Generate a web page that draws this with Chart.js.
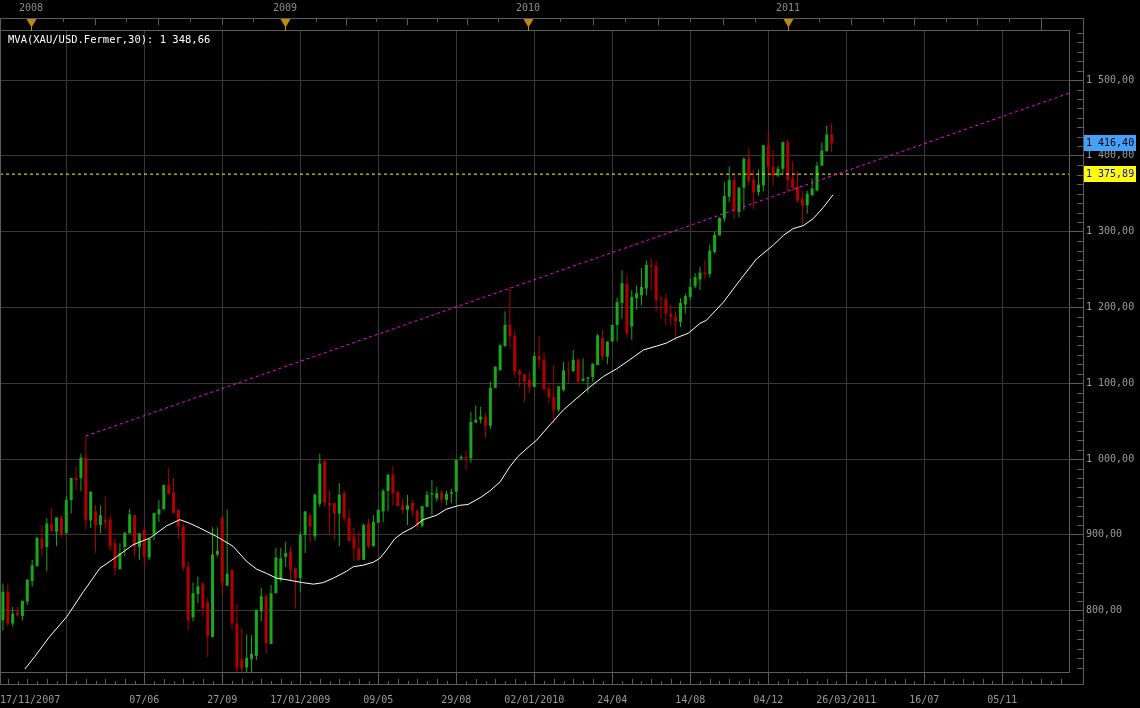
<!DOCTYPE html>
<html>
<head>
<meta charset="utf-8">
<script src="https://cdn.jsdelivr.net/npm/chart.js@4.4.0/dist/chart.umd.min.js"></script>
<style>
  html, body { margin: 0; padding: 0; background: #000; }
  #wrap { width: 1140px; height: 708px; }
</style>
</head>
<body>
<div id="wrap"><canvas id="chartCanvas" width="1140" height="708"></canvas></div>
<script>
// Weekly XAU/USD candles, one row per week from 17/11/2007: [open, high, low, close]
const weeklyOHLC = [
  [787, 836, 774, 825], [825, 836, 780, 783], [783, 805, 779, 796], [797, 805, 792, 794],
  [793, 813, 787, 813], [812, 841, 807, 841], [839, 867, 832, 860], [859, 898, 858, 896],
  [895, 913, 871, 883], [884, 922, 852, 915], [914, 935, 905, 905], [904, 923, 885, 923],
  [922, 926, 897, 901], [902, 951, 902, 946], [946, 975, 928, 975], [975, 990, 959, 972],
  [975, 1007, 958, 1002], [1002, 1030, 907, 919], [919, 957, 909, 957], [931, 939, 876, 913],
  [913, 939, 902, 926], [920, 950, 906, 916], [920, 926, 879, 885], [889, 895, 847, 856],
  [855, 889, 854, 876], [884, 903, 872, 903], [902, 934, 902, 927], [926, 926, 872, 885],
  [884, 902, 867, 902], [907, 907, 858, 871], [870, 895, 867, 895], [901, 929, 893, 929],
  [927, 946, 917, 934], [934, 966, 933, 966], [966, 988, 954, 954], [956, 975, 928, 929],
  [933, 934, 895, 911], [911, 915, 852, 857], [858, 865, 774, 787], [791, 837, 786, 823],
  [822, 845, 810, 832], [836, 837, 792, 803], [811, 816, 739, 766], [765, 910, 765, 874],
  [874, 910, 871, 879], [923, 923, 821, 836], [833, 933, 833, 849], [854, 854, 775, 783],
  [783, 809, 705, 724], [736, 777, 710, 724], [725, 769, 712, 738], [736, 768, 715, 743],
  [740, 801, 735, 801], [799, 830, 786, 819], [820, 820, 744, 757], [756, 834, 756, 823],
  [823, 883, 823, 870], [841, 883, 838, 869], [871, 891, 858, 876], [878, 885, 840, 854],
  [856, 856, 803, 843], [843, 904, 825, 900], [900, 931, 876, 931], [926, 928, 890, 911],
  [898, 955, 893, 953], [941, 1007, 937, 994], [997, 1000, 937, 942], [942, 959, 902, 939],
  [942, 942, 893, 928], [928, 968, 885, 953], [955, 959, 917, 922], [922, 934, 892, 892],
  [898, 909, 866, 882], [882, 904, 866, 867], [867, 915, 867, 913], [915, 921, 882, 885],
  [885, 926, 885, 917], [916, 933, 916, 933], [931, 961, 917, 958], [958, 981, 931, 979],
  [979, 991, 939, 955], [957, 957, 938, 938], [939, 948, 928, 933], [933, 953, 913, 939],
  [942, 946, 924, 932], [932, 933, 906, 913], [912, 938, 910, 938], [937, 958, 937, 953],
  [953, 972, 926, 955], [948, 963, 944, 955], [955, 959, 942, 947], [946, 958, 939, 954],
  [954, 961, 942, 956], [957, 999, 939, 999], [1001, 1005, 998, 1003], [1003, 1011, 986, 1001],
  [1001, 1062, 995, 1049], [1048, 1071, 1048, 1052], [1052, 1069, 1047, 1056], [1056, 1060, 1027, 1044],
  [1044, 1102, 1040, 1094], [1094, 1122, 1094, 1122], [1117, 1152, 1117, 1150], [1149, 1195, 1148, 1177],
  [1177, 1227, 1146, 1162], [1162, 1170, 1108, 1115], [1116, 1119, 1095, 1111], [1112, 1112, 1076, 1102],
  [1105, 1115, 1087, 1095], [1095, 1141, 1095, 1136], [1136, 1162, 1119, 1131], [1131, 1141, 1091, 1092],
  [1093, 1098, 1074, 1081], [1082, 1125, 1046, 1065], [1065, 1096, 1062, 1096], [1091, 1128, 1089, 1117],
  [1118, 1128, 1100, 1117], [1116, 1144, 1115, 1131], [1131, 1133, 1100, 1102], [1103, 1133, 1102, 1106],
  [1106, 1108, 1087, 1108], [1108, 1126, 1102, 1126], [1124, 1165, 1124, 1163], [1160, 1170, 1130, 1135],
  [1135, 1155, 1125, 1155], [1155, 1177, 1155, 1177], [1177, 1213, 1155, 1207], [1206, 1249, 1185, 1232],
  [1231, 1243, 1160, 1166], [1175, 1223, 1157, 1214], [1212, 1229, 1197, 1219], [1216, 1252, 1203, 1227],
  [1225, 1262, 1216, 1256], [1256, 1265, 1223, 1254], [1255, 1262, 1195, 1210], [1212, 1215, 1185, 1211],
  [1211, 1218, 1177, 1192], [1192, 1204, 1176, 1187], [1188, 1195, 1157, 1181], [1181, 1212, 1174, 1206],
  [1204, 1218, 1192, 1215], [1214, 1238, 1210, 1227], [1228, 1245, 1225, 1240], [1237, 1254, 1223, 1246],
  [1246, 1262, 1238, 1244], [1244, 1283, 1240, 1275], [1273, 1300, 1271, 1296], [1295, 1319, 1295, 1318],
  [1317, 1365, 1313, 1347], [1346, 1386, 1339, 1368], [1368, 1376, 1316, 1328], [1326, 1359, 1319, 1358],
  [1358, 1398, 1328, 1396], [1396, 1410, 1361, 1367], [1368, 1381, 1330, 1352], [1352, 1382, 1347, 1362],
  [1361, 1414, 1353, 1414], [1414, 1431, 1372, 1385], [1386, 1407, 1361, 1374], [1374, 1387, 1372, 1383],
  [1383, 1419, 1376, 1418], [1418, 1421, 1353, 1368], [1370, 1393, 1354, 1358], [1360, 1379, 1338, 1341],
  [1343, 1354, 1308, 1335], [1335, 1354, 1324, 1350], [1348, 1370, 1347, 1357], [1354, 1392, 1354, 1387],
  [1387, 1418, 1387, 1407], [1406, 1440, 1406, 1428], [1428, 1443, 1405, 1416.4]
];

// 30-week moving average (white line): week index -> value
const maWeeks = [4.5, 6.6, 9.6, 13.1, 16.5, 19.9, 23.3, 26.7, 30.2, 33.6, 36.3, 38.4, 40.4, 43.8,
  47.2, 50.0, 52.0, 54.1, 56.1, 58.9, 61.5, 63.7, 65.7, 67.8, 70.5, 71.9, 73.9, 76.0, 77.3, 78.7,
  80.4, 82.1, 84.2, 86.2, 89.0, 91.0, 93.7, 95.4, 97.9, 99.9, 102.0, 104.0, 105.6, 107.3, 109.5,
  112.2, 115.0, 117.7, 120.4, 123.2, 125.9, 128.6, 131.4, 134.1, 136.1, 138.2, 140.6, 143.0, 144.3,
  147.8, 151.2, 154.6, 158.0, 160.1, 162.1, 164.2, 166.2, 168.3, 170.3];
const maValues = [723, 740, 766, 792, 825, 856, 871, 887, 896, 912, 920, 915, 909, 898,
  885, 865, 855, 849, 843, 840, 837, 835, 837, 843, 852, 858, 860, 864, 869, 880,
  895, 903, 910, 920, 926, 934, 939, 940, 949, 958, 970, 990, 1003, 1013, 1025,
  1045, 1065, 1080, 1095, 1109, 1119, 1131, 1144, 1149, 1153, 1160, 1166, 1179, 1183,
  1207, 1236, 1264, 1282, 1295, 1304, 1308, 1317, 1332, 1348.66];

// magenta trend line anchors (week index, price)
const trendWeeks = [17, 218.7];
const trendValues = [1030.3, 1482.5];

const markerLevel = 1375.89;  // yellow dotted level
const lastClose = 1416.40;    // blue price box

const xMin = -0.6, xMax = 218.7;
const yMin = 719.1, yMax = 1566;

const xTickWeeks = [13, 29, 45, 61, 77, 93, 109, 125, 141, 157, 173, 189, 205];
const xTickLabels = ['', '07/06', '27/09', '17/01/2009', '09/05', '29/08', '02/01/2010',
  '24/04', '14/08', '04/12', '26/03/2011', '16/07', '05/11'];
const firstDateLabel = '17/11/2007';
const yTickValues = [800, 900, 1000, 1100, 1200, 1300, 1400, 1500];
const yearWeeks = [5.8, 57.9, 107.7, 161.0, 212.9];
const yearLabels = ['2008', '2009', '2010', '2011', ''];

const UP = '#18a818', DOWN = '#b00000';
const GRID = '#383838', FRAME = '#5c5c5c', LABEL = '#9a9a9a';
const MONO = '"DejaVu Sans Mono", monospace';

function fmt(v) {
  const parts = v.toFixed(2).split('.');
  return parts[0].replace(/\B(?=(\d{3})+(?!\d))/g, ' ') + ',' + parts[1];
}

const candleColors = weeklyOHLC.map(r => (r[3] >= r[0] ? UP : DOWN));
const wicks = weeklyOHLC.map((r, i) => ({ x: i, y: [r[2], r[1]] }));
const bodies = weeklyOHLC.map((r, i) => ({ x: i, y: [r[0], r[3]] }));

// frames, minor ticks, year band, price boxes and the MA caption
const decor = {
  id: 'decor',
  afterDraw(chart) {
    const { ctx, chartArea: a, scales: { x, y } } = chart;
    const oTop = a.top - 12, oRight = a.right + 14, oBottom = a.bottom + 12;
    ctx.save();
    ctx.strokeStyle = FRAME;
    ctx.lineWidth = 1;
    const seg = (x1, y1, x2, y2) => {
      ctx.beginPath(); ctx.moveTo(x1, y1); ctx.lineTo(x2, y2); ctx.stroke();
    };
    seg(0, oTop + 0.5, oRight + 0.5, oTop + 0.5);
    seg(0, a.top + 0.5, a.right, a.top + 0.5);
    seg(oRight + 0.5, oTop, oRight + 0.5, oBottom + 0.5);
    seg(0, oBottom + 0.5, oRight + 0.5, oBottom + 0.5);
    seg(0.5, oTop, 0.5, oBottom);

    // minor ticks on the date strip (every two weeks)
    for (let w = 1; w <= xMax; w += 2) {
      if ((w - 13) % 16 === 0) continue;
      const px = Math.round(x.getPixelForValue(w)) + 0.5;
      const len = (w - 13) % 4 === 0 ? 5 : 3;
      seg(px, oBottom, px, oBottom - len);
    }
    // minor ticks on the price strip
    for (let v = 725; v < yMax; v += 12.5) {
      if (v % 100 === 0) continue;
      const py = Math.round(y.getPixelForValue(v)) + 0.5;
      seg(oRight - 6, py, oRight, py);
    }
    // year band ticks
    for (let k = -1; k < yearWeeks.length - 1; k++) {
      const a0 = k < 0 ? yearWeeks[0] - (yearWeeks[1] - yearWeeks[0]) : yearWeeks[k];
      const a1 = k < 0 ? yearWeeks[0] : yearWeeks[k + 1];
      for (let j = 1; j < 8; j++) {
        const w = a0 + (a1 - a0) * j / 8;
        if (w < xMin) continue;
        const px = Math.round(x.getPixelForValue(w)) + 0.5;
        seg(px, oTop, px, oTop + (j % 2 === 0 ? 7 : 4));
      }
    }
    const endYear = Math.round(x.getPixelForValue(yearWeeks[yearWeeks.length - 1])) + 0.5;
    seg(endYear, oTop, endYear, a.top);

    // year markers
    ctx.font = '10px ' + MONO;
    ctx.textAlign = 'center';
    ctx.textBaseline = 'middle';
    yearWeeks.forEach((w, k) => {
      if (!yearLabels[k]) return;
      const px = Math.round(x.getPixelForValue(w));
      ctx.fillStyle = '#c08a10';
      ctx.beginPath();
      ctx.moveTo(px - 4.5, oTop + 1);
      ctx.lineTo(px + 5.5, oTop + 1);
      ctx.lineTo(px + 0.5, oTop + 9.5);
      ctx.closePath();
      ctx.fill();
      ctx.fillRect(px, oTop + 9, 1, 4);
      ctx.fillStyle = '#8c8c8c';
      ctx.fillText(yearLabels[k], px, 8);
    });

    // first date label sits at the left edge
    ctx.fillStyle = LABEL;
    ctx.textAlign = 'left';
    ctx.fillText(firstDateLabel, 0, a.bottom + 28);

    // price boxes
    const box = (v, bg, fg) => {
      const py = y.getPixelForValue(v);
      ctx.fillStyle = bg;
      ctx.fillRect(oRight + 1, Math.round(py) - 8, 52, 16);
      ctx.fillStyle = fg;
      ctx.fillText(fmt(v), oRight + 3, Math.round(py));
    };
    box(lastClose, '#44a0f8', '#000000');
    box(markerLevel, '#ffff00', '#0000ff');

    // MA caption
    ctx.font = '10.5px ' + MONO;
    ctx.fillStyle = '#ffffff';
    ctx.fillText('MVA(XAU/USD.Fermer,30): ' + fmt(maValues[maValues.length - 1]), 8, 40);
    ctx.restore();
  }
};

new Chart(document.getElementById('chartCanvas').getContext('2d'), {
  type: 'bar',
  data: {
    datasets: [
      {
        type: 'line', order: 0,
        data: maWeeks.map((w, i) => ({ x: w, y: maValues[i] })),
        borderColor: '#ffffff', borderWidth: 1, pointRadius: 0, tension: 0
      },
      {
        type: 'line', order: 0,
        data: trendWeeks.map((w, i) => ({ x: w, y: trendValues[i] })),
        borderColor: '#ff00ff', borderWidth: 1, borderDash: [3, 3], pointRadius: 0
      },
      {
        type: 'line', order: 0,
        data: [{ x: xMin, y: markerLevel }, { x: xMax, y: markerLevel }],
        borderColor: '#ffff00', borderWidth: 1, borderDash: [3, 3], pointRadius: 0
      },
      {
        order: 1, data: bodies, backgroundColor: candleColors,
        barThickness: 3, grouped: false, minBarLength: 1, inflateAmount: 0, borderWidth: 0
      },
      {
        order: 2, data: wicks, backgroundColor: candleColors,
        barThickness: 1, grouped: false, inflateAmount: 0, borderWidth: 0
      }
    ]
  },
  options: {
    responsive: false,
    animation: false,
    events: [],
    layout: { padding: { top: 30, left: 0, right: 0, bottom: 0 } },
    plugins: { legend: { display: false }, tooltip: { enabled: false } },
    scales: {
      x: {
        type: 'linear', min: xMin, max: xMax, offset: false,
        afterFit(s) { s.height = 36; },
        afterBuildTicks(s) { s.ticks = xTickWeeks.map(v => ({ value: v })); },
        grid: { color: GRID, tickColor: FRAME, tickLength: 12, offset: false },
        border: { color: FRAME },
        ticks: {
          color: LABEL, font: { family: MONO, size: 10 }, padding: 10,
          maxRotation: 0, autoSkip: false,
          callback: (v, i) => xTickLabels[i]
        }
      },
      y: {
        type: 'linear', position: 'right', min: yMin, max: yMax,
        afterFit(s) { s.width = 71; },
        afterBuildTicks(s) { s.ticks = yTickValues.map(v => ({ value: v })); },
        grid: { color: GRID, tickColor: FRAME, tickLength: 14 },
        border: { color: FRAME },
        ticks: {
          color: LABEL, font: { family: MONO, size: 10 }, padding: 3,
          callback: v => fmt(v)
        }
      }
    }
  },
  plugins: [decor]
});
</script>
</body>
</html>
